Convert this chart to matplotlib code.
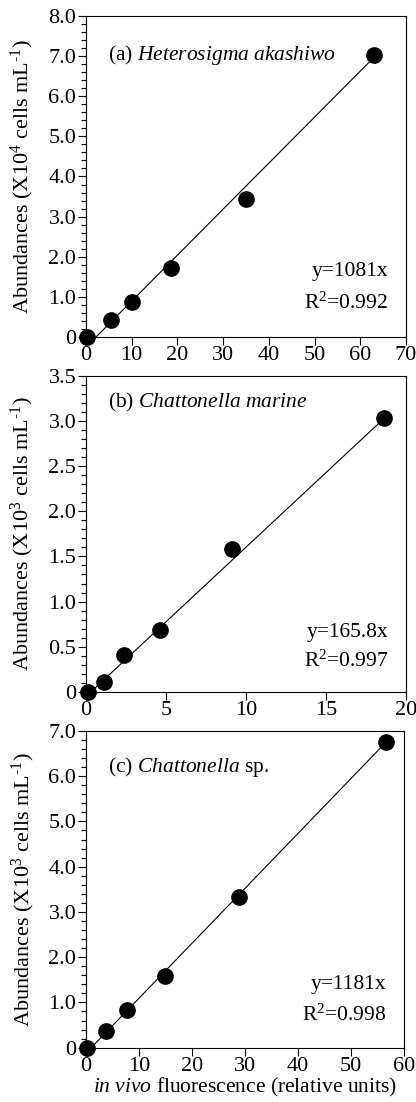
"""
Calibration curves: cell abundances vs in vivo fluorescence
three panels (a) Heterosigma akashiwo, (b) Chattonella marine, (c) Chattonella sp.
"""

import matplotlib
matplotlib.use("Agg")
import matplotlib.pyplot as plt
from matplotlib.ticker import MultipleLocator

plt.rcParams["font.family"] = ["Liberation Serif", "DejaVu Serif"]
plt.rcParams["mathtext.fontset"] = "custom"
plt.rcParams["mathtext.rm"] = "Liberation Serif"
plt.rcParams["mathtext.it"] = "Liberation Serif:italic"

# =============================
# Data
# =============================

# (a) Heterosigma akashiwo, y in 10^4 cells mL-1
ha_fluo = [0.3, 5.4, 10.1, 18.7, 35.1, 63.1]
ha_abund = [0.0, 0.43, 0.88, 1.71, 3.43, 7.02]
ha_fit_x = [2.2, 63.1]
ha_fit_y = [0.0, 6.98]

# (b) Chattonella marine, y in 10^3 cells mL-1
cm_fluo = [0.1, 1.15, 2.4, 4.6, 9.1, 18.65]
cm_abund = [0.0, 0.11, 0.41, 0.68, 1.58, 3.03]
cm_fit_x = [0.3, 18.65]
cm_fit_y = [0.0, 3.03]

# (c) Chattonella sp., y in 10^3 cells mL-1
cs_fluo = [0.1, 3.7, 7.7, 14.9, 28.9, 56.6]
cs_abund = [0.0, 0.37, 0.83, 1.59, 3.34, 6.75]
cs_fit_x = [1.0, 56.6]
cs_fit_y = [0.0, 6.75]

panels = [
    dict(x=ha_fluo, y=ha_abund, fx=ha_fit_x, fy=ha_fit_y,
         xlim=70, xstep=10, ylim=8.0, ystep=1.0, yminor=0.2,
         name=r"(a) $\mathit{Heterosigma\ akashiwo}$", name_y=0.879,
         eq="y=1081x", r2=r"R$^{2}$=0.992", eq_y=0.203, r2_y=0.106,
         ylabel=r"Abundances (X10$^{4}$ cells mL$^{\text{-1}}$)",
         pos=[0.2067, 0.6942, 0.7692, 0.2913]),
    dict(x=cm_fluo, y=cm_abund, fx=cm_fit_x, fy=cm_fit_y,
         xlim=20, xstep=5, ylim=3.5, ystep=0.5, yminor=0.1,
         name=r"(b) $\mathit{Chattonella\ marine}$", name_y=0.915,
         eq="y=165.8x", r2=r"R$^{2}$=0.997", eq_y=0.187, r2_y=0.096,
         ylabel=r"Abundances (X10$^{3}$ cells mL$^{\text{-1}}$)",
         pos=[0.2067, 0.3721, 0.7692, 0.2870]),
    dict(x=cs_fluo, y=cs_abund, fx=cs_fit_x, fy=cs_fit_y,
         xlim=60, xstep=10, ylim=7.0, ystep=1.0, yminor=0.2,
         name=r"(c) $\mathit{Chattonella}$ sp.", name_y=0.887,
         eq="y=1181x", r2=r"R$^{2}$=0.998", eq_y=0.198, r2_y=0.103,
         ylabel=r"Abundances (X10$^{3}$ cells mL$^{\text{-1}}$)",
         pos=[0.2067, 0.0493, 0.7644, 0.2874]),
]

# =============================
# Figure
# =============================
fig = plt.figure(figsize=(4.16, 11.02), dpi=100)

def fmt_y(v):
    return "0" if abs(v) < 1e-9 else f"{v:.1f}"

for i, p in enumerate(panels):
    ax = fig.add_axes(p["pos"])
    ax.plot(p["fx"], p["fy"], color="black", lw=0.8, zorder=2)
    ax.plot(p["x"], p["y"], "o", color="black", ms=11, clip_on=False, zorder=3)

    ax.set_xlim(0, p["xlim"])
    ax.set_ylim(0, p["ylim"])
    ax.xaxis.set_major_locator(MultipleLocator(p["xstep"]))
    ax.yaxis.set_major_locator(MultipleLocator(p["ystep"]))
    ax.yaxis.set_minor_locator(MultipleLocator(p["yminor"]))
    ax.set_yticks(ax.get_yticks())
    ax.set_yticklabels([fmt_y(v) for v in ax.get_yticks()])
    ax.set_ylim(0, p["ylim"])

    ax.tick_params(which="major", direction="out", length=6, width=0.8,
                   labelsize=16, pad=1)
    ax.tick_params(which="minor", direction="out", length=3.5, width=0.8)
    ax.tick_params(axis="x", which="major", pad=0.5)
    for s in ax.spines.values():
        s.set_linewidth(0.8)

    ax.set_ylabel(p["ylabel"], fontsize=16)
    ax.yaxis.set_label_coords(-0.155, 0.5)

    ax.text(0.069, p["name_y"], p["name"], transform=ax.transAxes,
            fontsize=15.5, ha="left", va="center")
    ax.text(0.944, p["eq_y"], p["eq"], transform=ax.transAxes,
            fontsize=15.5, ha="right", va="center")
    ax.text(0.944, p["r2_y"], p["r2"], transform=ax.transAxes,
            fontsize=15.5, ha="right", va="center")

    if i == len(panels) - 1:
        ax.set_xlabel(r"$\mathit{in\ vivo}$ fluorescence (relative units)",
                      fontsize=15.5, labelpad=0)

fig.savefig("out.png", dpi=100)
